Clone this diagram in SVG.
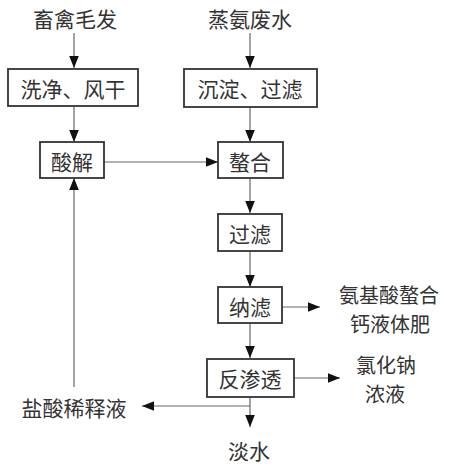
<svg xmlns="http://www.w3.org/2000/svg" width="450" height="467" viewBox="0 0 450 467">
<style>
.box{fill:#fff;stroke:#333;stroke-width:1.8}
.t{font-family:"Noto Sans CJK SC","Liberation Sans",sans-serif;font-size:21px;fill:#333;text-anchor:middle;dominant-baseline:central}
.s{font-size:20px}
.ln{stroke:#666;stroke-width:1.2;fill:none}
</style>
<defs>
<marker id="a" viewBox="0 0 10 10" refX="10" refY="5" markerWidth="12" markerHeight="12" markerUnits="userSpaceOnUse" orient="auto">
<path d="M0,1 L10,5 L0,9 Z" fill="#111"/>
</marker>
</defs>
<rect width="450" height="467" fill="#fff"/>
<g id="connectors">
<line class="ln" x1="74" y1="33" x2="74" y2="68" marker-end="url(#a)"/>
<line class="ln" x1="250" y1="33" x2="250" y2="68" marker-end="url(#a)"/>
<line class="ln" x1="74" y1="107" x2="74" y2="142" marker-end="url(#a)"/>
<line class="ln" x1="250" y1="107" x2="250" y2="142" marker-end="url(#a)"/>
<line class="ln" x1="104" y1="162" x2="218" y2="162" marker-end="url(#a)"/>
<line class="ln" x1="250" y1="178" x2="250" y2="213" marker-end="url(#a)"/>
<line class="ln" x1="250" y1="251" x2="250" y2="287" marker-end="url(#a)"/>
<line class="ln" x1="282" y1="307" x2="320" y2="307" marker-end="url(#a)"/>
<line class="ln" x1="250" y1="323" x2="250" y2="358" marker-end="url(#a)"/>
<line class="ln" x1="294" y1="378" x2="340" y2="378" marker-end="url(#a)"/>
<line class="ln" x1="250" y1="397" x2="250" y2="427" marker-end="url(#a)"/>
<line class="ln" x1="250" y1="406" x2="142" y2="406" marker-end="url(#a)"/>
<line class="ln" x1="74" y1="387" x2="74" y2="178" marker-end="url(#a)"/>
</g>
<g id="n1"><text class="t" x="75" y="18">畜禽毛发</text></g>
<g id="n2"><text class="t" x="250" y="18">蒸氨废水</text></g>
<g id="n3"><rect class="box" x="8" y="69" width="130" height="37"/><text class="t" x="73" y="88">洗净、风干</text></g>
<g id="n4"><rect class="box" x="184" y="69" width="133" height="38"/><text class="t" x="250" y="88">沉淀、过滤</text></g>
<g id="n5"><rect class="box" x="40" y="142" width="64" height="36"/><text class="t" x="72" y="161">酸解</text></g>
<g id="n6"><rect class="box" x="218" y="142" width="65" height="36"/><text class="t" x="250" y="161">螯合</text></g>
<g id="n7"><rect class="box" x="218" y="214" width="64" height="37"/><text class="t" x="250" y="233">过滤</text></g>
<g id="n8"><rect class="box" x="218" y="287" width="64" height="36"/><text class="t" x="250" y="306">纳滤</text></g>
<g id="n9"><rect class="box" x="207" y="359" width="87" height="38"/><text class="t" x="250" y="378">反渗透</text></g>
<g id="n10"><text class="t s" x="389" y="294">氨基酸螯合</text><text class="t s" x="390" y="323">钙液体肥</text></g>
<g id="n11"><text class="t s" x="386" y="364">氯化钠</text><text class="t s" x="385" y="393">浓液</text></g>
<g id="n12"><text class="t" x="249" y="450">淡水</text></g>
<g id="n13"><text class="t" x="74" y="407">盐酸稀释液</text></g>
</svg>
